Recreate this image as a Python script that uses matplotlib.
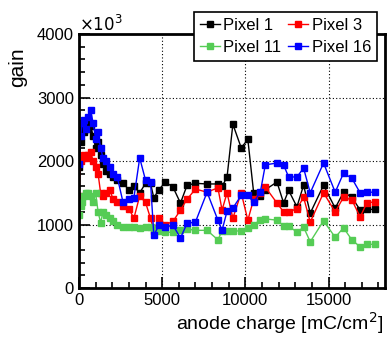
import numpy as np
import matplotlib.pyplot as plt
from matplotlib.ticker import MultipleLocator, FuncFormatter

plt.rcParams['font.family'] = ['Liberation Sans', 'DejaVu Sans']

# anode charge [mC/cm^2], shared by all pixels
charge = [0, 100, 200, 300, 400, 550, 700, 850, 1000, 1150,
          1300, 1450, 1650, 1850, 2050, 2300, 2650, 3000, 3300, 3650,
          4000, 4300, 4500, 4800, 5200, 5650, 6100, 6500, 7000, 7700,
          8350, 8600, 8900, 9250, 9750, 10150, 10500, 10900, 11200, 11900,
          12300, 12600, 13100, 13500, 13900, 14700, 15400, 15900, 16400, 16900,
          17300, 17800]

# gain in units of 10^3
pixel1 = [1900, 2300, 2500, 2450, 2600, 2500, 2550, 2400, 2200, 2300,
          2100, 1950, 1850, 1800, 1750, 1700, 1650, 1550, 1600, 1500,
          1650, 1650, 1420, 1550, 1670, 1590, 1340, 1620, 1650, 1640,
          1640, 1600, 1750, 2580, 2210, 2340, 1500, 1450, 1550, 1670,
          1340, 1540, 1280, 1620, 1180, 1620, 1260, 1510, 1430, 1230,
          1240, 1240]
pixel3 = [1450, 2000, 2050, 2100, 2050, 2100, 2150, 2000, 1900, 1800,
          1500, 1450, 1500, 1550, 1400, 1350, 1300, 1250, 1100, 1450,
          1350, 1100, 900, 1100, 1000, 1050, 1230, 1400, 1560, 1510,
          1580, 1230, 1500, 1100, 1500, 1070, 1400, 1500, 1590, 1340,
          1200, 1200, 1250, 1430, 1040, 1500, 1200, 1430, 1390, 1120,
          1340, 1360]
pixel11 = [1150, 1300, 1350, 1450, 1500, 1500, 1450, 1350, 1500, 1200,
           1030, 1200, 1150, 1100, 1050, 1000, 960, 970, 960, 950,
           960, 960, 930, 900, 880, 880, 910, 930, 910, 910,
           760, 900, 900, 900, 900, 950, 1000, 1070, 1090, 1070,
           980, 980, 880, 960, 730, 1060, 800, 950, 760, 650,
           690, 690]
pixel16 = [1950, 2400, 2600, 2650, 2500, 2700, 2800, 2600, 2350, 2450,
           2200, 2050, 2000, 1900, 1800, 1750, 1350, 1400, 1420, 2050,
           1700, 1670, 830, 990, 960, 990, 790, 1020, 1040, 1510,
           1070, 910, 1210, 1260, 1460, 1460, 1350, 1510, 1940, 1970,
           1940, 1750, 1750, 1890, 1500, 1970, 1510, 1810, 1730, 1500,
           1510, 1510]

fig = plt.figure(figsize=(3.89, 3.37), dpi=100)
ax = fig.add_axes([0.203, 0.145, 0.787, 0.754])

l1, = ax.plot(charge, pixel1, color='black', marker='s', ms=5, lw=1)
l3, = ax.plot(charge, pixel3, color='#ff0000', marker='s', ms=5, lw=1)
l11, = ax.plot(charge, pixel11, color='#55cc55', marker='s', ms=5, lw=1)
l16, = ax.plot(charge, pixel16, color='#0000ff', marker='s', ms=5, lw=1)

ax.set_xlim(0, 18400)
ax.set_ylim(0, 4000)
ax.xaxis.set_major_locator(MultipleLocator(5000))
ax.xaxis.set_minor_locator(MultipleLocator(1000))
ax.yaxis.set_major_locator(MultipleLocator(1000))
ax.yaxis.set_minor_locator(MultipleLocator(200))
ax.yaxis.set_major_formatter(FuncFormatter(lambda v, p: '%d' % v))
ax.tick_params(which='both', direction='in', labelsize=12, width=1.2,
               top=False, right=False)
ax.tick_params(which='major', length=8)
ax.tick_params(which='minor', length=4)
for s in ax.spines.values():
    s.set_linewidth(2)
ax.grid(True, which='major', color='black', linestyle=(0, (1, 2)), lw=0.8)

ax.text(0.0, 1.0, r'$\times10^{3}$', transform=ax.transAxes, ha='left',
        va='bottom', fontsize=12)
ax.set_ylabel('gain', fontsize=15)
ax.yaxis.set_label_coords(-0.17, 0.87)
ax.set_xlabel('anode charge [mC/cm$^{2}$]', fontsize=14, ha='right')
ax.xaxis.set_label_coords(0.995, -0.085)

leg = fig.legend([l1, l11, l3, l16], ['Pixel 1', 'Pixel 11', 'Pixel 3', 'Pixel 16'],
                 ncol=2, loc='upper right', bbox_to_anchor=(0.99, 0.99),
                 fontsize=12, frameon=True, fancybox=False, framealpha=1,
                 edgecolor='black', handlelength=1.2, handletextpad=0.2,
                 columnspacing=0.4, borderpad=0.35, labelspacing=0.45,
                 markerscale=0.9)
leg.get_frame().set_linewidth(1.2)

fig.savefig('out.png', dpi=100)
